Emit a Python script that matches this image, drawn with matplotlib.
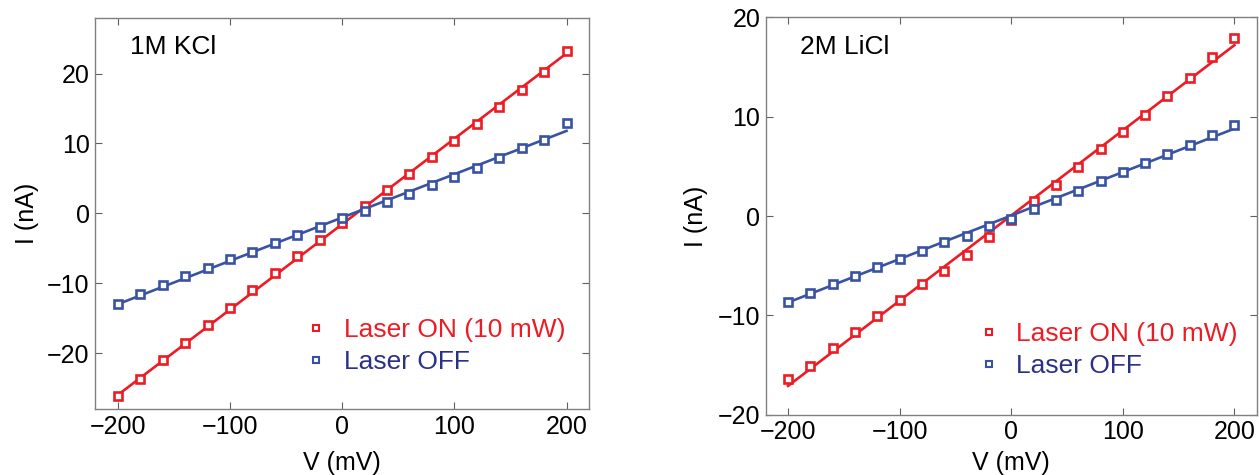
import matplotlib
matplotlib.use("Agg")
import matplotlib.pyplot as plt
from matplotlib.lines import Line2D

plt.rcParams['font.family'] = ['Liberation Sans', 'DejaVu Sans']

# bias voltage (mV)
voltage = [-200, -180, -160, -140, -120, -100, -80, -60, -40, -20, 0,
           20, 40, 60, 80, 100, 120, 140, 160, 180, 200]

# 1M KCl currents (nA)
kcl_on = [-26.2, -23.7, -21.0, -18.5, -16.0, -13.5, -11.0, -8.5, -6.1, -3.8, -1.4,
          1.1, 3.3, 5.7, 8.1, 10.4, 12.8, 15.2, 17.6, 20.2, 23.3]
kcl_off = [-12.95, -11.6, -10.3, -9.0, -7.8, -6.6, -5.5, -4.3, -3.1, -2.0, -0.7,
           0.4, 1.6, 2.8, 4.0, 5.2, 6.5, 7.9, 9.3, 10.5, 12.9]

# 2M LiCl currents (nA)
licl_on = [-16.45, -15.1, -13.3, -11.65, -10.05, -8.45, -6.85, -5.5, -3.9, -2.1, -0.35,
           1.5, 3.15, 4.9, 6.7, 8.5, 10.2, 12.05, 13.9, 16.0, 17.9]
licl_off = [-8.7, -7.75, -6.85, -6.0, -5.15, -4.3, -3.5, -2.65, -2.0, -1.05, -0.25,
            0.7, 1.65, 2.55, 3.5, 4.4, 5.3, 6.25, 7.2, 8.15, 9.2]

# linear fit lines, end points
fit_v = [-200, 200]
kcl_on_fit = [-26.0, 22.9]
kcl_off_fit = [-13.0, 11.8]
licl_on_fit = [-17.1, 17.2]
licl_off_fit = [-8.7, 8.8]

RED = '#ed1c24'
BLUE = '#3953a4'
NAVY = '#2b3185'


def draw_panel(ax, on, off, on_fit, off_fit, label, ylim, yticks,
               leg_anchor, xlab_y, ylab_x):
    ax.plot(fit_v, on_fit, color=RED, lw=1.9)
    ax.plot(fit_v, off_fit, color=BLUE, lw=1.9)
    ax.plot(voltage, on, 's', mfc='white', mec=RED, mew=1.9, ms=5.6)
    ax.plot(voltage, off, 's', mfc='white', mec=BLUE, mew=1.9, ms=5.6)

    ax.set_xlim(-220, 220)
    ax.set_ylim(*ylim)
    ax.set_xticks([-200, -100, 0, 100, 200])
    ax.set_xticklabels(['\u2212200', '\u2212100', '0', '100', '200'])
    ax.set_yticks(yticks)
    ax.set_yticklabels([str(t).replace('-', '\u2212') for t in yticks])
    ax.tick_params(direction='in', top=True, right=True, length=5,
                   width=0.8, color='#606060', labelsize=18, pad=4)
    for s in ax.spines.values():
        s.set_color('#808080')
        s.set_linewidth(1)
    ax.set_xlabel('V (mV)', fontsize=18)
    ax.set_ylabel('I (nA)', fontsize=18)
    ax.xaxis.set_label_coords(0.5, xlab_y)
    ax.yaxis.set_label_coords(ylab_x, 0.5)
    ax.text(0.07, 0.925, label, transform=ax.transAxes, fontsize=19,
            va='center', ha='left')

    handles = [Line2D([], [], ls='none', marker='s', mfc='white', mec=RED, mew=1.5, ms=5),
               Line2D([], [], ls='none', marker='s', mfc='white', mec=BLUE, mew=1.5, ms=5)]
    ax.legend(handles, ['Laser ON (10 mW)', 'Laser OFF'], loc='center left',
              bbox_to_anchor=leg_anchor, frameon=False, fontsize=19,
              labelcolor=[RED, NAVY], handlelength=1.0, handletextpad=0.55,
              labelspacing=0.3, borderpad=0, borderaxespad=0)


fig = plt.figure(figsize=(12.59, 4.75), dpi=100)
ax1 = fig.add_axes([0.0757, 0.1389, 0.3921, 0.8238])
ax2 = fig.add_axes([0.6082, 0.1269, 0.3900, 0.8366])

draw_panel(ax1, kcl_on, kcl_off, kcl_on_fit, kcl_off_fit, '1M KCl',
           (-28, 28), [-20, -10, 0, 10, 20], (0.42, 0.161), -0.108, -0.114)
draw_panel(ax2, licl_on, licl_off, licl_on_fit, licl_off_fit, '2M LiCl',
           (-20, 20), [-20, -10, 0, 10, 20], (0.427, 0.163), -0.092, -0.1175)

fig.savefig('out.png', dpi=100)
